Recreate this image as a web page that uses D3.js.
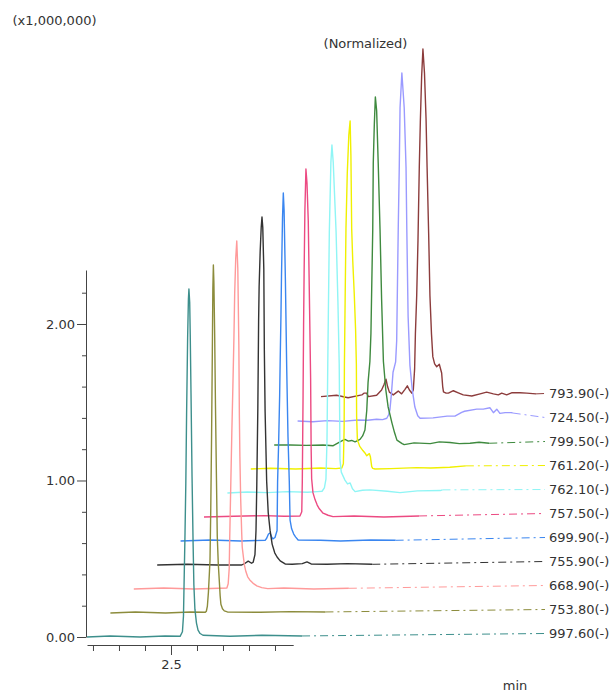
<!DOCTYPE html>
<html>
<head>
<meta charset="utf-8">
<script src="https://cdn.jsdelivr.net/npm/d3@7"></script>
<style>
  body { margin: 0; background: #fff; }
  text { font-family: "DejaVu Sans", sans-serif; }
</style>
</head>
<body>
<script>
// traces, front to back: [time (min), intensity (% of own max)]
const s997 = [[2.177,0],[2.266,0.3],[2.381,0],[2.477,0.3],[2.535,0.2],[2.544,1.5],[2.548,6],[2.551,18],[2.554,30],[2.557,44],[2.560,64],[2.564,86],[2.567,97],[2.569,100],[2.572,96],[2.574,87],[2.577,70],[2.581,46],[2.585,27],[2.588,15],[2.592,8],[2.598,4],[2.604,2],[2.612,1],[2.623,0.5],[2.727,0.2],[2.850,0.5],[3.004,0.3]];
const s753 = [[2.177,0],[2.273,0.3],[2.389,0],[2.485,0.3],[2.542,0.2],[2.546,0.5],[2.550,2],[2.554,6],[2.558,12],[2.560,15],[2.563,30],[2.566,50],[2.569,75],[2.571,93],[2.573,100],[2.575,95],[2.578,80],[2.581,60],[2.585,38],[2.588,22],[2.592,14],[2.596,9],[2.599,5],[2.602,2.5],[2.608,1.2],[2.615,0.6],[2.627,0.3],[2.754,0.2],[2.869,0.4],[3.004,0.3]];
const s668 = [[2.177,0],[2.292,0.3],[2.408,0],[2.504,0.2],[2.535,0.3],[2.540,1.5],[2.544,6],[2.546,15],[2.550,30],[2.554,45],[2.558,58],[2.562,72],[2.565,85],[2.569,95],[2.573,100],[2.577,92],[2.581,70],[2.583,50],[2.585,38],[2.588,26],[2.592,16],[2.594,12],[2.602,7],[2.608,5],[2.615,3.5],[2.623,2.6],[2.635,1.7],[2.650,0.9],[2.669,0.4],[2.692,0.1],[2.754,0.3],[2.869,0],[3.004,0.2]];
const s755 = [[2.177,0],[2.292,0.2],[2.408,0],[2.502,0],[2.515,0.5],[2.527,1.1],[2.540,0.5],[2.546,0.8],[2.553,3],[2.557,10],[2.560,23],[2.564,45],[2.567,70],[2.569,80],[2.573,90],[2.577,97],[2.580,100],[2.583,97],[2.587,85],[2.589,62],[2.592,44],[2.598,24],[2.604,15],[2.611,10],[2.619,6],[2.629,3.5],[2.638,2.3],[2.650,1.2],[2.669,0.3],[2.696,0.2],[2.735,0.4],[2.753,0.9],[2.769,0.3],[2.831,0.2],[2.908,0.4],[3.004,0.2]];
const s699 = [[2.177,0],[2.292,0.3],[2.408,0],[2.502,0.2],[2.508,0.8],[2.515,2],[2.521,2.3],[2.527,1.2],[2.532,0.6],[2.540,1],[2.548,3],[2.550,17],[2.554,28],[2.558,42],[2.560,52],[2.563,65],[2.565,76],[2.569,93],[2.572,100],[2.575,95],[2.580,75],[2.585,50],[2.590,30],[2.595,17],[2.598,6],[2.604,3.5],[2.612,2],[2.619,1.2],[2.629,0.3],[2.715,0.2],[2.792,0],[2.908,0.3],[3.004,0.2]];
const s757 = [[2.177,0],[2.292,0.2],[2.408,0.4],[2.485,0.2],[2.546,0.3],[2.553,1.5],[2.555,10],[2.558,35],[2.560,55],[2.562,70],[2.565,88],[2.569,100],[2.573,96],[2.578,85],[2.583,60],[2.587,40],[2.589,20],[2.591,11],[2.596,7],[2.604,5],[2.612,3.5],[2.619,2.5],[2.635,1.1],[2.654,0.5],[2.673,0.1],[2.754,0.3],[2.869,0],[3.004,0.3]];
const s762 = [[2.177,0],[2.254,0.3],[2.331,0.1],[2.408,0.4],[2.485,0.2],[2.523,0.4],[2.541,0.5],[2.550,1.5],[2.556,4],[2.560,15],[2.563,37],[2.565,50],[2.569,75],[2.575,95],[2.579,100],[2.584,95],[2.595,75],[2.602,55],[2.607,37],[2.609,20],[2.610,9.5],[2.615,6],[2.629,3.7],[2.639,2.6],[2.649,2.9],[2.658,1.2],[2.668,0.4],[2.696,0.8],[2.725,0.9],[2.792,0.5],[2.841,0.1],[2.908,0.6],[2.995,0.7],[3.004,0.9]];
const s761 = [[2.177,0],[2.254,0.2],[2.350,0],[2.446,0.3],[2.504,0.1],[2.527,0.3],[2.533,1.5],[2.536,12],[2.537,30],[2.540,50],[2.543,69],[2.548,85],[2.554,96],[2.559,100],[2.562,90],[2.565,69],[2.569,60],[2.575,50],[2.580,40],[2.583,30],[2.584,15],[2.587,8.3],[2.596,6.5],[2.608,5.3],[2.616,4.6],[2.623,3.8],[2.629,4.2],[2.633,4.4],[2.637,3.5],[2.642,0.7],[2.646,0.2],[2.655,0],[2.715,0.1],[2.815,0.4],[2.869,0.3],[2.942,0.5],[3.004,0.9]];
const s799 = [[2.177,0],[2.239,0],[2.300,-0.1],[2.365,0],[2.404,-0.2],[2.437,1.2],[2.449,1.6],[2.462,1.1],[2.475,1.3],[2.488,0.9],[2.507,1.6],[2.517,2.6],[2.526,4.3],[2.533,10],[2.538,18],[2.545,24],[2.549,32],[2.552,45],[2.556,62],[2.558,81],[2.562,92],[2.566,100],[2.571,96],[2.577,81],[2.584,62],[2.590,42],[2.597,24],[2.606,16],[2.615,11],[2.630,6.3],[2.640,3.5],[2.649,1.4],[2.669,0.4],[2.677,0.1],[2.715,0.6],[2.777,0.4],[2.812,0.9],[2.853,0.7],[2.889,0.4],[2.930,0.5],[2.965,0.8],[3.004,0.5]];
const s724 = [[2.177,0],[2.235,-0.2],[2.292,0.1],[2.350,-0.1],[2.408,0.3],[2.446,0.2],[2.481,0.5],[2.504,0.4],[2.520,0.8],[2.527,1.8],[2.532,3.2],[2.538,8],[2.544,14],[2.554,17],[2.558,23],[2.564,55],[2.568,73],[2.571,90],[2.578,100],[2.587,90],[2.594,73],[2.597,55],[2.602,30],[2.609,16],[2.618,9],[2.628,4],[2.639,1.5],[2.648,0.8],[2.698,0.9],[2.752,1.4],[2.782,1.4],[2.808,2.5],[2.819,2.8],[2.866,3.4],[2.891,3.4],[2.917,3.8],[2.930,2.4],[2.943,3.4],[2.955,2.2],[2.975,2.4],[3.000,2.4],[3.004,2.3]];
const s793 = [[2.177,0.1],[2.237,0.5],[2.281,-0.2],[2.334,0.6],[2.342,1.1],[2.353,1.1],[2.359,0.1],[2.391,0.5],[2.410,2.0],[2.419,3.5],[2.427,5.1],[2.433,3],[2.440,1.4],[2.455,0.6],[2.474,1.7],[2.487,0.9],[2.500,2.2],[2.509,3.2],[2.517,2.0],[2.526,1.1],[2.532,2],[2.537,8],[2.540,18],[2.545,29],[2.550,45],[2.555,66],[2.559,79],[2.564,92],[2.569,100],[2.575,93],[2.581,80],[2.585,66],[2.591,47],[2.596,29],[2.602,18],[2.607,11.6],[2.614,9.5],[2.622,8.7],[2.632,9.4],[2.641,6.9],[2.645,3],[2.648,1.5],[2.658,1.1],[2.667,1.1],[2.686,1.8],[2.705,1.2],[2.724,0.6],[2.757,0.3],[2.789,0.9],[2.814,1.4],[2.840,0.9],[2.859,0.6],[2.872,1.1],[2.891,0.6],[2.910,1.2],[2.942,1.2],[2.968,1.1],[3.004,0.9]];

const traces = [s997, s753, s668, s755, s699, s757, s762, s761, s799, s724, s793];
const labels = ["997.60(-)","753.80(-)","668.90(-)","755.90(-)","699.90(-)","757.50(-)","762.10(-)","761.20(-)","799.50(-)","724.50(-)","793.90(-)"];
const colors = ["#3d8f8c","#8c8c3c","#ff9a9a","#333333","#3a86f0","#ec4a82","#8ff5f5","#f0f000","#3f8a3f","#9a9aff","#8c3c3c"];

const yMajor = [0, 1, 2];
const yMinor = [0.2, 0.4, 0.6, 0.8, 1.2, 1.4, 1.6, 1.8, 2.2];
const xMajor = [2.5];
const xMinor = [2.2, 2.3, 2.4, 2.6, 2.7, 2.8, 2.9];

const width = 613, height = 691;
const dx = 23.4, dy = 24;   // per-trace shift (px)
const normMax = 2.224;      // normalized peak height in y units

const svg = d3.select("body").append("svg")
  .attr("width", width).attr("height", height);

const x = d3.scaleLinear().domain([2.177, 2.97]).range([87, 293.2]);
const y = d3.scaleLinear().domain([0, 2.345]).range([637, 270]);

// axes
const axisColor = "#444";
function styleAxis(g) {
  g.selectAll("path, line").attr("stroke", axisColor);
  g.selectAll("text").attr("fill", "#333").attr("font-size", 13)
    .attr("font-family", "DejaVu Sans, sans-serif");
}

svg.append("g").attr("transform", "translate(86,0)")
  .call(d3.axisLeft(y).tickValues(yMinor).tickSize(4).tickSizeOuter(0).tickFormat(""))
  .call(styleAxis);
svg.append("g").attr("transform", "translate(86,0)")
  .call(d3.axisLeft(y).tickValues(yMajor).tickSize(9).tickPadding(2).tickFormat(d3.format(".2f")))
  .call(g => g.select(".domain").remove())
  .call(styleAxis);

svg.append("g").attr("transform", "translate(0,645)")
  .call(d3.axisBottom(x).tickValues(xMinor).tickSize(6).tickSizeOuter(0).tickFormat(""))
  .call(styleAxis);
svg.append("g").attr("transform", "translate(0,645)")
  .call(d3.axisBottom(x).tickValues(xMajor).tickSize(10).tickPadding(5).tickFormat(d3.format(".1f")))
  .call(g => g.select(".domain").remove())
  .call(styleAxis);

const line = d3.line()
  .x(d => x(d[0]))
  .y(d => y(d[1] / 100 * normMax));

// draw back to front
for (let i = traces.length - 1; i >= 0; i--) {
  const data = traces[i];
  const g = svg.append("g").attr("transform", `translate(${i * dx},${-i * dy})`);
  const last = data[data.length - 1];
  const labelY = y(0) - 3.5;

  g.append("path")
    .attr("d", d3.line()([[x(last[0]), y(last[1] / 100 * normMax)], [545 - i * dx, labelY]]))
    .attr("fill", "none")
    .attr("stroke", colors[i])
    .attr("stroke-width", 1)
    .attr("stroke-dasharray", "8,4,2,4");

  g.append("path")
    .datum(data)
    .attr("d", line)
    .attr("fill", "none")
    .attr("stroke", colors[i])
    .attr("stroke-width", 1.4)
    .attr("stroke-linejoin", "round");

  g.append("text")
    .attr("x", 549 - i * dx)
    .attr("y", labelY)
    .attr("dominant-baseline", "central")
    .attr("font-size", 13)
    .attr("fill", "#333")
    .text(labels[i]);
}

svg.append("text").attr("x", 12.5).attr("y", 25)
  .attr("font-size", 13).attr("fill", "#333").text("(x1,000,000)");
svg.append("text").attr("x", 365.5).attr("y", 47.5).attr("text-anchor", "middle")
  .attr("font-size", 13).attr("fill", "#333").text("(Normalized)");
svg.append("text").attr("x", 515).attr("y", 689.5).attr("text-anchor", "middle")
  .attr("font-size", 13).attr("fill", "#333").text("min");
</script>
</body>
</html>
